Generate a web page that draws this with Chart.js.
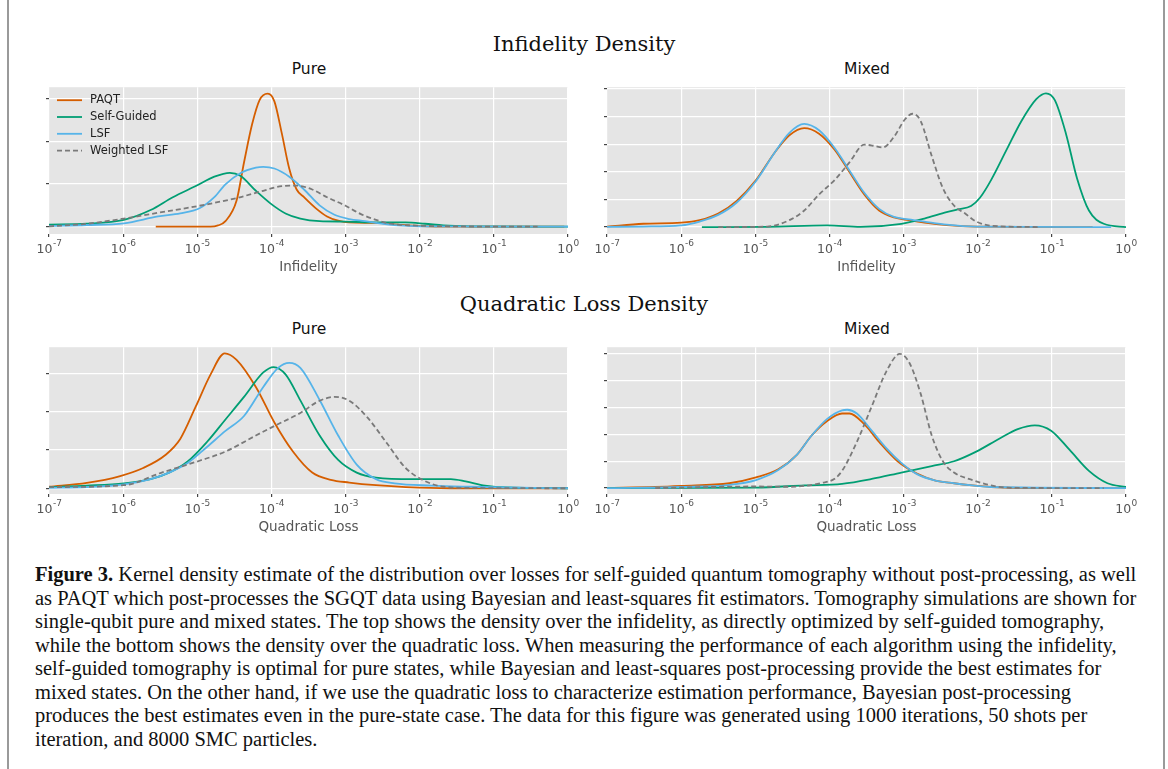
<!DOCTYPE html>
<html>
<head>
<meta charset="utf-8">
<script src="https://cdn.jsdelivr.net/npm/chart.js@4.4.1/dist/chart.umd.min.js"></script>
<style>
  body { margin: 0; width: 1168px; height: 769px; background: #fff; position: relative; overflow: hidden; }
  .frame { position: absolute; top: 0; width: 2px; height: 769px; background: #9a9a9a; }
  .heading { position: absolute; left: 0; width: 1168px; text-align: center; font-family: "DejaVu Serif", serif; font-size: 21px; color: #111; line-height: 26px; }
  .sub { position: absolute; width: 300px; text-align: center; font-family: "DejaVu Sans", sans-serif; font-size: 15.5px; color: #111; line-height: 20px; }
  .panel { position: absolute; }
  .caption { position: absolute; left: 35px; top: 563px; font-family: "Liberation Serif", serif; font-size: 20.5px; line-height: 23.5px; color: #111; white-space: nowrap; }
</style>
</head>
<body>
<div class="frame" style="left:7px"></div>
<div class="frame" style="left:1163px"></div>

<div class="heading" style="top:31px">Infidelity Density</div>
<div class="sub" style="left:159px;top:59px">Pure</div>
<div class="sub" style="left:717px;top:59px">Mixed</div>
<div class="panel" style="left:9px;top:77px"><canvas id="infPure" width="585" height="199"></canvas></div>
<div class="panel" style="left:567px;top:77px"><canvas id="infMixed" width="585" height="199"></canvas></div>

<div class="heading" style="top:291px">Quadratic Loss Density</div>
<div class="sub" style="left:159px;top:319px">Pure</div>
<div class="sub" style="left:717px;top:319px">Mixed</div>
<div class="panel" style="left:9px;top:337px"><canvas id="qlPure" width="585" height="199"></canvas></div>
<div class="panel" style="left:567px;top:337px"><canvas id="qlMixed" width="585" height="199"></canvas></div>

<div class="caption">
<div><b>Figure 3.</b> Kernel density estimate of the distribution over losses for self-guided quantum tomography without post-processing, as well</div>
<div>as PAQT which post-processes the SGQT data using Bayesian and least-squares fit estimators. Tomography simulations are shown for</div>
<div>single-qubit pure and mixed states. The top shows the density over the infidelity, as directly optimized by self-guided tomography,</div>
<div>while the bottom shows the density over the quadratic loss. When measuring the performance of each algorithm using the infidelity,</div>
<div>self-guided tomography is optimal for pure states, while Bayesian and least-squares post-processing provide the best estimates for</div>
<div>mixed states. On the other hand, if we use the quadratic loss to characterize estimation performance, Bayesian post-processing</div>
<div>produces the best estimates even in the pure-state case. The data for this figure was generated using 1000 iterations, 50 shots per</div>
<div>iteration, and 8000 SMC particles.</div>
</div>

<script>
// series: PAQT, Self-Guided, LSF, Weighted LSF
var seriesNames  = ['PAQT', 'Self-Guided', 'LSF', 'Weighted LSF'];
var seriesColors = ['#D55E00', '#009E73', '#56B4E9', '#7a7a7a'];

// x values are log10 of the loss, y values are density
// --- infidelity, pure
var infPurePaqtX = [-5.56, -4.82, -4.72, -4.62, -4.47, -4.37, -4.26, -4.16, -4.05, -3.96, -3.86, -3.76, -3.66, -3.56, -3.40, -3.25, -3.10, -2.95, -2.59, -2.29, -1.98, -1.58, -0.05];
var infPurePaqtY = [0, 0, 0.03, 0.13, 0.61, 1.5, 2.4, 2.96, 3.11, 2.93, 2.18, 1.36, 0.87, 0.69, 0.43, 0.24, 0.14, 0.10, 0.09, 0.05, 0.015, 0, 0];
var infPureSgX = [-7, -6.49, -5.99, -5.63, -5.33, -5.02, -4.77, -4.56, -4.42, -4.21, -4.01, -3.81, -3.61, -3.35, -3.0, -2.59, -2.19, -1.93, -1.68, -1.33, 0];
var infPureSgY = [0.05, 0.07, 0.16, 0.39, 0.69, 0.95, 1.17, 1.26, 1.19, 0.84, 0.54, 0.31, 0.19, 0.13, 0.12, 0.10, 0.10, 0.07, 0.03, 0.01, 0];
var infPureLsfX = [-7, -6.49, -5.99, -5.53, -5.23, -4.97, -4.77, -4.62, -4.42, -4.21, -4.11, -3.96, -3.76, -3.56, -3.35, -3.15, -2.95, -2.74, -2.59, -2.29, -1.98, 0];
var infPureLsfY = [0.02, 0.04, 0.08, 0.24, 0.31, 0.43, 0.69, 0.99, 1.25, 1.38, 1.40, 1.36, 1.17, 0.87, 0.50, 0.28, 0.18, 0.13, 0.09, 0.03, 0.01, 0];
var infPureWlsfX = [-7, -6.49, -5.99, -5.48, -4.97, -4.47, -4.11, -3.86, -3.66, -3.45, -3.25, -3.0, -2.80, -2.59, -2.39, -2.09, -1.58, -0.41];
var infPureWlsfY = [0.01, 0.07, 0.19, 0.34, 0.49, 0.67, 0.84, 0.95, 0.96, 0.87, 0.69, 0.49, 0.30, 0.16, 0.07, 0.03, 0.01, 0];

// --- infidelity, mixed
var infMixPaqtX = [-7, -6.51, -6.0, -5.75, -5.5, -5.25, -4.99, -4.74, -4.54, -4.34, -4.14, -3.93, -3.73, -3.53, -3.33, -3.13, -2.93, -2.72, -2.42, -2.02, -0.45];
var infMixPaqtY = [0.02, 0.12, 0.16, 0.25, 0.49, 0.95, 1.70, 2.69, 3.32, 3.58, 3.38, 2.80, 1.99, 1.18, 0.60, 0.35, 0.25, 0.16, 0.07, 0.02, 0];
var infMixSgX = [-5.72, -4.84, -4.03, -3.58, -3.03, -2.72, -2.42, -2.27, -2.09, -1.97, -1.82, -1.61, -1.41, -1.21, -1.08, -0.96, -0.81, -0.66, -0.50, -0.30, 0];
var infMixSgY = [0, 0.01, 0.06, 0.01, 0.12, 0.31, 0.54, 0.64, 0.76, 1.06, 1.70, 2.80, 3.84, 4.63, 4.84, 4.59, 3.38, 1.76, 0.60, 0.12, 0];
var infMixLsfX = [-7, -6.51, -6.0, -5.75, -5.5, -5.25, -4.99, -4.74, -4.54, -4.34, -4.14, -3.93, -3.73, -3.53, -3.33, -3.13, -2.93, -2.72, -2.42, -2.02, -0.2];
var infMixLsfY = [0.01, 0.02, 0.06, 0.20, 0.44, 0.89, 1.67, 2.69, 3.41, 3.73, 3.50, 2.86, 2.05, 1.24, 0.66, 0.37, 0.28, 0.20, 0.09, 0.02, 0];
var infMixWlsfX = [-5.5, -4.84, -4.54, -4.34, -4.14, -3.93, -3.73, -3.53, -3.40, -3.28, -3.13, -2.98, -2.88, -2.77, -2.62, -2.47, -2.32, -2.17, -2.02, -1.82, -1.16];
var infMixWlsfY = [0, 0.02, 0.25, 0.60, 1.18, 1.70, 2.34, 2.98, 2.94, 2.88, 3.26, 3.90, 4.10, 3.84, 2.57, 1.41, 0.78, 0.49, 0.20, 0.05, 0];

// --- quadratic loss, pure
var qlPurePaqtX = [-7, -6.49, -6.04, -5.73, -5.43, -5.23, -5.02, -4.82, -4.63, -4.47, -4.21, -3.96, -3.71, -3.45, -3.20, -2.95, -2.59, -2.19, -1.58, 0];
var qlPurePaqtY = [0.04, 0.14, 0.32, 0.53, 0.87, 1.29, 2.14, 2.98, 3.53, 3.36, 2.65, 1.72, 0.96, 0.41, 0.22, 0.15, 0.08, 0.03, 0, 0];
var qlPureSgX = [-7, -6.49, -5.99, -5.63, -5.38, -5.13, -4.87, -4.62, -4.37, -4.11, -3.97, -3.81, -3.61, -3.35, -3.10, -2.85, -2.59, -2.09, -1.58, -1.38, -1.12, -0.82, 0];
var qlPureSgY = [0.03, 0.07, 0.13, 0.24, 0.41, 0.70, 1.21, 1.80, 2.39, 3.03, 3.17, 2.98, 2.30, 1.38, 0.74, 0.41, 0.28, 0.24, 0.24, 0.18, 0.07, 0.02, 0];
var qlPureLsfX = [-7, -6.49, -5.99, -5.63, -5.38, -5.13, -4.87, -4.62, -4.37, -4.11, -3.91, -3.76, -3.61, -3.35, -3.10, -2.85, -2.59, -2.34, -1.84, -1.33, -0.82, 0];
var qlPureLsfY = [0.01, 0.03, 0.10, 0.24, 0.41, 0.66, 1.08, 1.50, 1.89, 2.65, 3.15, 3.28, 3.15, 2.31, 1.38, 0.62, 0.24, 0.13, 0.07, 0.04, 0.02, 0];
var qlPureWlsfX = [-7, -5.99, -5.48, -4.97, -4.62, -4.21, -3.96, -3.61, -3.35, -3.15, -2.95, -2.70, -2.44, -2.19, -1.93, -1.68, -1.33, 0];
var qlPureWlsfY = [0.03, 0.08, 0.41, 0.72, 0.96, 1.38, 1.63, 1.97, 2.29, 2.39, 2.29, 1.84, 1.17, 0.53, 0.19, 0.04, 0.01, 0];

// --- quadratic loss, mixed
var qlMixPaqtX = [-7, -6.35, -6.0, -5.35, -4.99, -4.69, -4.44, -4.24, -4.03, -3.83, -3.73, -3.53, -3.33, -3.08, -2.82, -2.57, -2.32, -2.07, -1.82, -1.31, 0];
var qlMixPaqtY = [0, 0.04, 0.08, 0.18, 0.40, 0.70, 1.24, 1.96, 2.50, 2.78, 2.78, 2.38, 1.72, 1.0, 0.54, 0.28, 0.18, 0.10, 0.04, 0, 0];
var qlMixSgX = [-7, -4.99, -4.34, -3.83, -3.43, -3.03, -2.62, -2.32, -2.02, -1.71, -1.46, -1.23, -1.01, -0.76, -0.50, -0.25, 0];
var qlMixSgY = [0, 0.02, 0.10, 0.16, 0.34, 0.58, 0.82, 1.00, 1.36, 1.84, 2.20, 2.34, 2.14, 1.42, 0.64, 0.18, 0.04];
var qlMixLsfX = [-7, -6.0, -5.35, -4.99, -4.69, -4.44, -4.24, -4.03, -3.83, -3.76, -3.63, -3.43, -3.23, -3.03, -2.82, -2.57, -2.32, -2.07, -1.82, 0];
var qlMixLsfY = [0, 0.04, 0.12, 0.30, 0.67, 1.24, 1.96, 2.58, 2.90, 2.92, 2.78, 2.14, 1.48, 0.94, 0.52, 0.28, 0.18, 0.10, 0.04, 0];
var qlMixWlsfX = [-6.35, -4.99, -4.54, -4.09, -3.93, -3.83, -3.63, -3.43, -3.23, -3.05, -2.92, -2.77, -2.62, -2.47, -2.32, -2.07, -1.82, -1.56, -0.30];
var qlMixWlsfY = [0, 0.06, 0.05, 0.20, 0.35, 0.64, 1.72, 3.04, 4.36, 5.0, 4.66, 3.52, 1.96, 1.0, 0.58, 0.30, 0.10, 0.01, 0];

var xTickValues = [1e-7, 1e-6, 1e-5, 1e-4, 1e-3, 1e-2, 1e-1, 1e0];

function toPoints(xs, ys) {
    return xs.map(function(x, i) { return { x: Math.pow(10, x), y: ys[i] }; });
}

// grey panel background behind the grid
var panelBackground = {
    id: 'panelBackground',
    beforeDraw: function(chart) {
        var a = chart.chartArea, ctx = chart.ctx;
        ctx.save();
        ctx.fillStyle = '#E5E5E5';
        ctx.fillRect(a.left, a.top, a.right - a.left, a.bottom - a.top);
        ctx.restore();
    }
};

// power-of-ten tick labels with a raised exponent
var powerTicks = {
    id: 'powerTicks',
    afterDraw: function(chart) {
        var sx = chart.scales.x, ctx = chart.ctx, base = chart.chartArea.bottom;
        ctx.save();
        ctx.fillStyle = '#555';
        ctx.textBaseline = 'alphabetic';
        ctx.textAlign = 'left';
        sx.ticks.forEach(function(t) {
            var px = sx.getPixelForValue(t.value);
            var e = String(Math.round(Math.log10(t.value)));
            ctx.font = '12.5px "DejaVu Sans", sans-serif';
            var w1 = ctx.measureText('10').width;
            ctx.font = '9px "DejaVu Sans", sans-serif';
            var w2 = ctx.measureText(e).width;
            var x0 = px - (w1 + w2) / 2;
            ctx.font = '12.5px "DejaVu Sans", sans-serif';
            ctx.fillText('10', x0, base + 19);
            ctx.font = '9px "DejaVu Sans", sans-serif';
            ctx.fillText(e, x0 + w1 + 0.5, base + 12);
        });
        ctx.restore();
    }
};

// legend drawn inside the plot, top left
var innerLegend = {
    id: 'innerLegend',
    afterDraw: function(chart, args, opts) {
        if (!opts.show) return;
        var ctx = chart.ctx, a = chart.chartArea;
        ctx.save();
        ctx.font = '11.5px "DejaVu Sans", sans-serif';
        ctx.textBaseline = 'middle';
        seriesNames.forEach(function(name, i) {
            var y = a.top + 13 + i * 16.8;
            var x = a.left + 8;
            ctx.strokeStyle = seriesColors[i];
            ctx.lineWidth = 1.8;
            ctx.setLineDash(i === 3 ? [5, 3] : []);
            ctx.beginPath();
            ctx.moveTo(x, y);
            ctx.lineTo(x + 25, y);
            ctx.stroke();
            ctx.fillStyle = '#222';
            ctx.fillText(name, x + 33, y);
        });
        ctx.restore();
    }
};

function makePanel(id, series, yMin, yMax, yTicks, xTitle, legend) {
    var datasets = series.map(function(s, i) {
        return {
            label: seriesNames[i],
            data: toPoints(s[0], s[1]),
            borderColor: seriesColors[i],
            borderWidth: 1.8,
            borderDash: i === 3 ? [5, 3] : [],
            pointRadius: 0,
            fill: false,
            cubicInterpolationMode: 'monotone',
            order: 3 - i
        };
    });
    return new Chart(document.getElementById(id), {
        type: 'line',
        data: { datasets: datasets },
        options: {
            responsive: false,
            animation: false,
            devicePixelRatio: 1,
            layout: { padding: { left: 30, right: 26, top: 5, bottom: 0 } },
            plugins: {
                legend: { display: false },
                tooltip: { enabled: false },
                innerLegend: { show: legend }
            },
            scales: {
                x: {
                    type: 'logarithmic',
                    min: 1e-7,
                    max: 1,
                    afterBuildTicks: function(s) { s.ticks = xTickValues.map(function(v) { return { value: v }; }); },
                    afterFit: function(s) { s.height = 42; },
                    border: { display: false },
                    grid: { color: '#ffffff', lineWidth: 1.2, tickColor: '#444', tickLength: 3 },
                    ticks: { display: false },
                    title: { display: true, text: xTitle, color: '#555', padding: 0, font: { family: 'DejaVu Sans', size: 13.5 } }
                },
                y: {
                    type: 'linear',
                    min: yMin,
                    max: yMax,
                    afterBuildTicks: function(s) { s.ticks = yTicks.map(function(v) { return { value: v }; }); },
                    afterFit: function(s) { s.width = 10; },
                    border: { display: false },
                    grid: { color: '#ffffff', lineWidth: 1.2, tickColor: '#444', tickLength: 3 },
                    ticks: { callback: function() { return ''; } }
                }
            }
        },
        plugins: [panelBackground, powerTicks, innerLegend]
    });
}

makePanel('infPure', [
    [infPurePaqtX, infPurePaqtY], [infPureSgX, infPureSgY], [infPureLsfX, infPureLsfY], [infPureWlsfX, infPureWlsfY]
], -0.17, 3.26, [0, 1, 2, 3], 'Infidelity', true);

makePanel('infMixed', [
    [infMixPaqtX, infMixPaqtY], [infMixSgX, infMixSgY], [infMixLsfX, infMixLsfY], [infMixWlsfX, infMixWlsfY]
], -0.25, 5.06, [0, 1, 2, 3, 4, 5], 'Infidelity', false);

makePanel('qlPure', [
    [qlPurePaqtX, qlPurePaqtY], [qlPureSgX, qlPureSgY], [qlPureLsfX, qlPureLsfY], [qlPureWlsfX, qlPureWlsfY]
], -0.15, 3.69, [0, 1, 2, 3], 'Quadratic Loss', false);

makePanel('qlMixed', [
    [qlMixPaqtX, qlMixPaqtY], [qlMixSgX, qlMixSgY], [qlMixLsfX, qlMixLsfY], [qlMixWlsfX, qlMixWlsfY]
], -0.22, 5.25, [0, 1, 2, 3, 4, 5], 'Quadratic Loss', false);
</script>
</body>
</html>
